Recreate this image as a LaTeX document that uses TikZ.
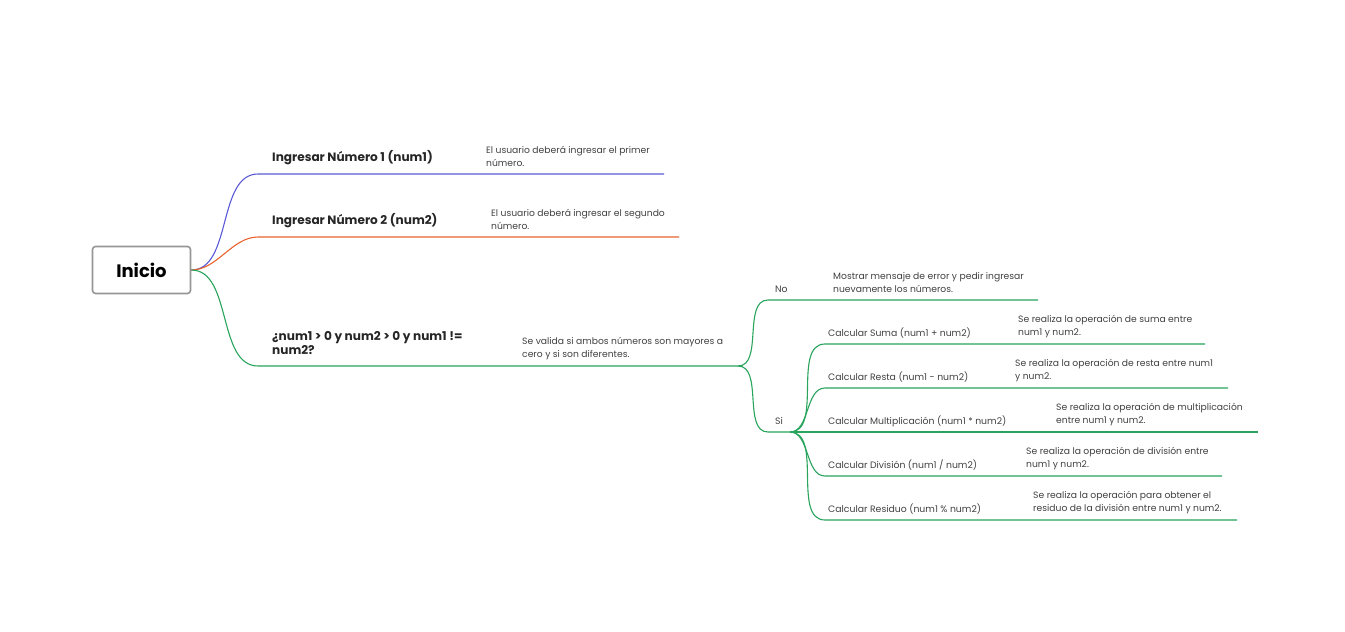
\documentclass[tikz,border=0pt]{standalone}
\usepackage{fontspec}
\setmainfont{Poppins}
\usetikzlibrary{positioning}
\definecolor{azul}{RGB}{90,90,214}
\definecolor{naranja}{RGB}{232,98,46}
\definecolor{verde}{RGB}{40,164,92}
\definecolor{marco}{RGB}{150,150,150}

\begin{document}
\begin{tikzpicture}[x=1pt,y=-1pt,
                    every node/.style={inner sep=0pt,align=left},
                    tema/.style={anchor=west,font=\fontsize{12.1}{14}\selectfont\bfseries,text=black!85},
                    sub/.style={anchor=west,font=\fontsize{9.3}{13}\selectfont,text=black!75},
                    nota/.style={anchor=west,font=\fontsize{9.2}{13}\selectfont,text=black!75},
                    rama/.style={line width=1.1pt},
                    curva/.style={out=0,in=180,looseness=0.9}]
  \useasboundingbox (0,0) rectangle (1345,632);
  \node[draw=marco,line width=1.6pt,rounded corners=3pt,minimum width=98pt,minimum height=47pt,
        font=\fontsize{18}{22}\selectfont\bfseries] (inicio) at (141.5,270) {Inicio};
  % ramas principales
  \coordinate (a1) at (258,174); \coordinate (a2) at (664,174);
  \coordinate (b1) at (258,237); \coordinate (b2) at (679,237);
  \coordinate (c1) at (258,366); \coordinate (c2) at (738,366);
  \coordinate (no1) at (768,300); \coordinate (no2) at (1038,300);
  \coordinate (si1) at (768,432); \coordinate (si2) at (790,432);
  \coordinate (s1) at (825,344); \coordinate (s2) at (1205,344);
  \coordinate (r1) at (825,388); \coordinate (r2) at (1228,388);
  \coordinate (m2) at (1258,432);
  \coordinate (d1) at (825,476); \coordinate (d2) at (1222,476);
  \coordinate (q1) at (825,520); \coordinate (q2) at (1237,520);
  \draw[rama,azul] (inicio.east) to[curva] (a1) -- (a2);
  \draw[rama,naranja] (inicio.east) to[curva] (b1) -- (b2);
  \draw[rama,verde] (inicio.east) to[curva] (c1) -- (c2);
  \draw[rama,verde] (c2) to[curva] (no1) -- (no2);
  \draw[rama,verde] (c2) to[curva] (si1) -- (si2);
  \draw[rama,verde] (si2) to[curva] (s1) -- (s2);
  \draw[rama,verde] (si2) to[curva] (r1) -- (r2);
  \draw[rama,verde] (si2) -- (m2);
  \draw[rama,verde] (si2) to[curva] (d1) -- (d2);
  \draw[rama,verde] (si2) to[curva] (q1) -- (q2);
  % textos
  \node[tema] (ing1) at (272,158) {Ingresar Número 1 (num1)};
  \node[nota] (n1) at (486,156) {El usuario deberá ingresar el primer\\número.};
  \node[tema] (ing2) at (272,221) {Ingresar Número 2 (num2)};
  \node[nota] (n2) at (491,219.5) {El usuario deberá ingresar el segundo\\número.};
  \node[tema] (cond) at (272,343) {¿num1 > 0 y num2 > 0 y num1 !=\\num2?};
  \node[nota] (n3) at (522,348.5) {Se valida si ambos números son mayores a\\cero y si son diferentes.};
  \node[sub] (no) at (775,289) {No};
  \node[nota] (n4) at (833,283) {Mostrar mensaje de error y pedir ingresar\\nuevamente los números.};
  \node[sub] (si) at (775,421) {Si};
  \node[sub] (suma) at (828,333) {Calcular Suma (num1 + num2)};
  \node[nota] (n5) at (1018,326.5) {Se realiza la operación de suma entre\\num1 y num2.};
  \node[sub] (resta) at (828,377) {Calcular Resta (num1 - num2)};
  \node[nota] (n6) at (1015,370.5) {Se realiza la operación de resta entre num1\\y num2.};
  \node[sub] (mult) at (828,421) {Calcular Multiplicación (num1 * num2)};
  \node[nota] (n7) at (1056,414.5) {Se realiza la operación de multiplicación\\entre num1 y num2.};
  \node[sub] (div) at (828,465) {Calcular División (num1 / num2)};
  \node[nota] (n8) at (1026,458.5) {Se realiza la operación de división entre\\num1 y num2.};
  \node[sub] (resid) at (828,509) {Calcular Residuo (num1 \% num2)};
  \node[nota] (n9) at (1033,502.5) {Se realiza la operación para obtener el\\residuo de la división entre num1 y num2.};
\end{tikzpicture}
\end{document}
